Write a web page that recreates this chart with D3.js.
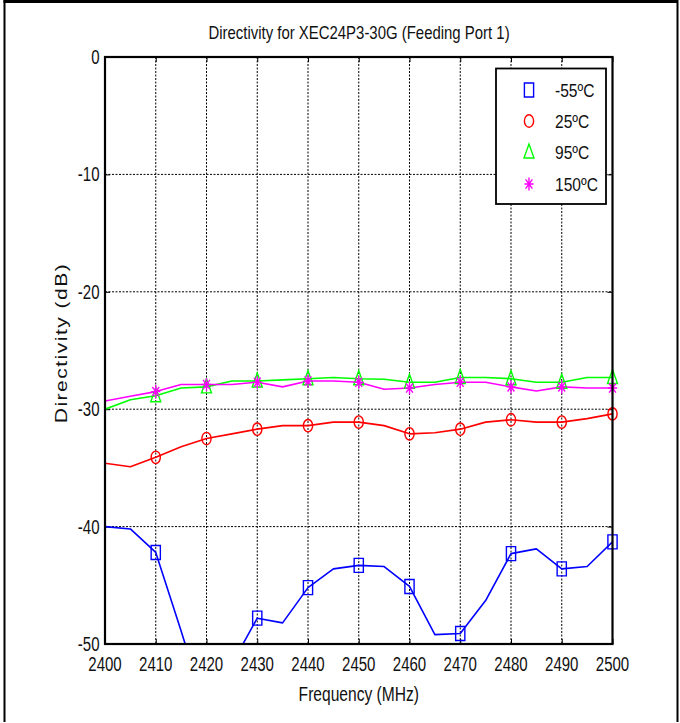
<!DOCTYPE html>
<html>
<head>
<meta charset="utf-8">
<script src="https://cdn.jsdelivr.net/npm/d3@7"></script>
<style>
  html, body { margin: 0; padding: 0; background: #fff; }
  svg { display: block; }
  text { font-family: "Liberation Sans", Arial, Helvetica, sans-serif; fill: #111; }
</style>
</head>
<body>
<svg id="chart" width="680" height="723"></svg>
<script>
// Frequency points (MHz)
const freqs = [2400, 2405, 2410, 2415, 2420, 2425, 2430, 2435, 2440, 2445, 2450,
               2455, 2460, 2465, 2470, 2475, 2480, 2485, 2490, 2495, 2500];

// Directivity (dB) per temperature
const dirM55 = [-40.0, -40.2, -42.2, -48.9, -55.8, -51.7, -47.8, -48.2, -45.2, -43.6, -43.3,
                -43.4, -45.1, -49.2, -49.1, -46.3, -42.3, -41.9, -43.6, -43.4, -41.3];
const dir25  = [-34.6, -34.9, -34.1, -33.2, -32.5, -32.1, -31.7, -31.4, -31.4, -31.1, -31.1,
                -31.4, -32.1, -32.0, -31.7, -31.1, -30.9, -31.1, -31.1, -30.8, -30.4];
const dir95  = [-30.0, -29.2, -28.85, -28.2, -28.1, -27.6, -27.6, -27.5, -27.4, -27.3, -27.4,
                -27.45, -27.7, -27.7, -27.3, -27.3, -27.4, -27.7, -27.7, -27.3, -27.3];
const dir150 = [-29.3, -28.9, -28.5, -27.9, -27.9, -27.9, -27.7, -28.1, -27.6, -27.6, -27.7,
                -28.3, -28.2, -27.9, -27.7, -27.7, -28.1, -28.45, -28.1, -28.2, -28.2];

// Frequencies that carry a marker
const markerFreqs = [2410, 2420, 2430, 2440, 2450, 2460, 2470, 2480, 2490, 2500];

const seriesNames = ["-55ºC", "25ºC", "95ºC", "150ºC"];
const seriesColors = ["#0000ff", "#ff0000", "#00ff00", "#ff00ff"];
const seriesMarkers = ["square", "circle", "triangle", "star"];
const seriesValues = [dirM55, dir25, dir95, dir150];

const xTicks = [2400, 2410, 2420, 2430, 2440, 2450, 2460, 2470, 2480, 2490, 2500];
const yTicks = [0, -10, -20, -30, -40, -50];

const titleText = "Directivity for XEC24P3-30G (Feeding Port 1)";
const xLabel = "Frequency (MHz)";
const yLabel = "Directivity (dB)";

const svg = d3.select("#chart");
const plot = { left: 105, right: 612.5, top: 57, bottom: 644 };
const SX = 0.78; // horizontal squeeze applied to glyphs

const x = d3.scaleLinear().domain([2400, 2500]).range([plot.left, plot.right]);
const y = d3.scaleLinear().domain([-50, 0]).range([plot.bottom, plot.top]);

// Outer frame
svg.append("line").attr("x1", 4.5).attr("x2", 4.5).attr("y1", 0).attr("y2", 722)
  .attr("stroke", "#000").attr("stroke-width", 2);
svg.append("line").attr("x1", 3.5).attr("x2", 678).attr("y1", 1.5).attr("y2", 1.5)
  .attr("stroke", "#000").attr("stroke-width", 3);
svg.append("line").attr("x1", 677.5).attr("x2", 677.5).attr("y1", 0).attr("y2", 722)
  .attr("stroke", "#000").attr("stroke-width", 2);

function squeezedText(px, py, str, size, anchor, sx) {
  const g = svg.append("g").attr("transform", `translate(${px},${py}) scale(${sx},1)`);
  return g.append("text").attr("x", 0).attr("y", 0)
    .attr("font-size", size).attr("text-anchor", anchor).text(str);
}

// Grid
const grid = svg.append("g");
grid.selectAll("line.vg").data(xTicks.slice(1, -1)).join("line")
  .attr("x1", d => x(d)).attr("x2", d => x(d))
  .attr("y1", plot.top).attr("y2", plot.bottom)
  .attr("stroke", "#000").attr("stroke-width", 1).attr("stroke-dasharray", "2,1.5");
grid.selectAll("line.hg").data(yTicks.slice(1, -1)).join("line")
  .attr("x1", plot.left).attr("x2", plot.right)
  .attr("y1", d => y(d)).attr("y2", d => y(d))
  .attr("stroke", "#000").attr("stroke-width", 1).attr("stroke-dasharray", "2,1.5");

// Axes with inward ticks on all sides
const axB = d3.axisBottom(x).tickValues(xTicks).tickSize(-5).tickFormat("");
const axT = d3.axisTop(x).tickValues(xTicks).tickSize(-5).tickFormat("");
const axL = d3.axisLeft(y).tickValues(yTicks).tickSize(-5).tickFormat("");
const axR = d3.axisRight(y).tickValues(yTicks).tickSize(-5).tickFormat("");
[[axB, `translate(0,${plot.bottom})`], [axT, `translate(0,${plot.top})`],
 [axL, `translate(${plot.left},0)`], [axR, `translate(${plot.right},0)`]].forEach(([ax, tr]) => {
  const g = svg.append("g").attr("transform", tr).call(ax);
  g.select(".domain").remove();
  g.selectAll(".tick line").attr("stroke", "#000").attr("stroke-width", 1);
});

// Tick labels
xTicks.forEach(t => squeezedText(x(t), 670.5, String(t), 19.5, "middle", 0.77));
yTicks.forEach(t => squeezedText(99.5, y(t) + 7, String(t), 19.5, "end", 0.77));

// Data lines, clipped to the axes box
svg.append("clipPath").attr("id", "plotClip").append("rect")
  .attr("x", plot.left).attr("y", plot.top)
  .attr("width", plot.right - plot.left).attr("height", plot.bottom - plot.top);

const lineGen = d3.line().x((d, i) => x(freqs[i])).y(d => y(d));
const linesG = svg.append("g").attr("clip-path", "url(#plotClip)");
seriesValues.forEach((vals, k) => {
  linesG.append("path").datum(vals).attr("d", lineGen)
    .attr("fill", "none").attr("stroke", seriesColors[k]).attr("stroke-width", 1.6)
    .attr("stroke-linejoin", "round");
});

// Marker shapes (narrow, matching the squeezed aspect)
function markerPath(type) {
  switch (type) {
    case "square": return "M-4.6,-7 H4.6 V7 H-4.6 Z";
    case "circle": {
      const rx = 4.6, ry = 6.2;
      return `M${-rx},0 A${rx},${ry} 0 1,0 ${rx},0 A${rx},${ry} 0 1,0 ${-rx},0 Z`;
    }
    case "triangle": return "M0,-8 L5,6 L-5,6 Z";
    case "star": return "M0,-6.5 V6.5 M-4.6,0 H4.6 M-3.4,-4.6 L3.4,4.6 M-3.4,4.6 L3.4,-4.6";
  }
}

const markG = svg.append("g");
seriesValues.forEach((vals, k) => {
  const pts = vals.map((v, i) => ({ f: freqs[i], v }))
    .filter(d => markerFreqs.includes(d.f) && d.v >= -50 && d.v <= 0);
  markG.selectAll(null).data(pts).join("path")
    .attr("transform", d => `translate(${x(d.f)},${y(d.v)})`)
    .attr("d", markerPath(seriesMarkers[k]))
    .attr("fill", "none").attr("stroke", seriesColors[k]).attr("stroke-width", 1.4);
});

// Axes box
svg.append("rect").attr("x", plot.left).attr("y", plot.top)
  .attr("width", plot.right - plot.left).attr("height", plot.bottom - plot.top)
  .attr("fill", "none").attr("stroke", "#000").attr("stroke-width", 2.2);

// Legend
const leg = { x: 496, y: 68.5, w: 110, h: 135.5 };
svg.append("rect").attr("x", leg.x).attr("y", leg.y).attr("width", leg.w).attr("height", leg.h)
  .attr("fill", "#fff").attr("stroke", "#000").attr("stroke-width", 1.8);
const rowY = [90, 121, 152, 184];
seriesNames.forEach((name, k) => {
  svg.append("path").attr("transform", `translate(529,${rowY[k]})`)
    .attr("d", markerPath(seriesMarkers[k]))
    .attr("fill", "none").attr("stroke", seriesColors[k]).attr("stroke-width", 1.4);
  squeezedText(555, rowY[k] + 7, name, 19, "start", 0.82);
});

// Title and axis labels
squeezedText(359, 39, titleText, 18, "middle", 0.83);
squeezedText(358.8, 700.5, xLabel, 19.5, "middle", 0.8);
svg.append("g").attr("transform", `translate(67,343) scale(0.76,1) rotate(-90)`)
  .append("text").attr("x", 0).attr("y", 0).attr("font-size", 21)
  .attr("text-anchor", "middle").attr("letter-spacing", 1.5).text(yLabel);
</script>
</body>
</html>
